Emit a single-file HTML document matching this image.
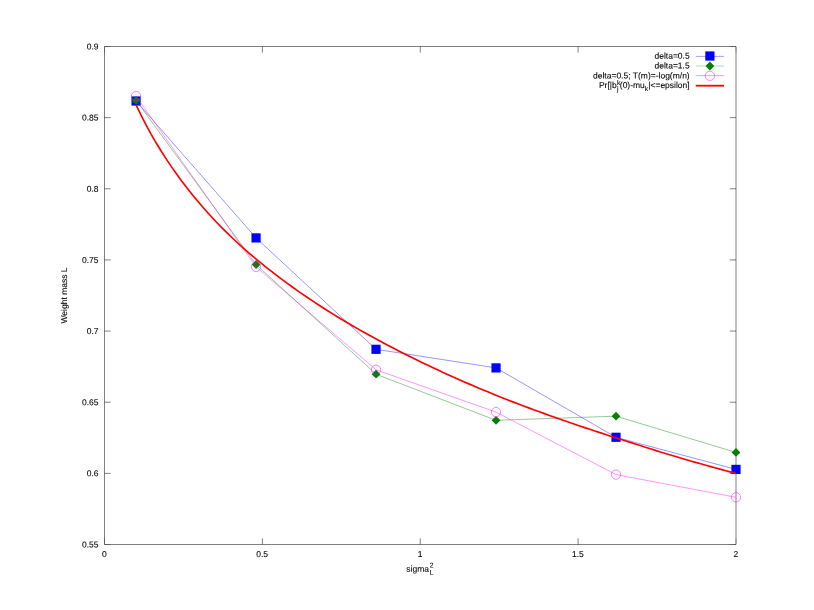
<!DOCTYPE html>
<html><head><meta charset="utf-8"><title>plot</title>
<style>
html,body{margin:0;padding:0;background:#fff;}
body{width:814px;height:610px;overflow:hidden;}
svg{display:block;will-change:transform;}
text{font-family:"Liberation Sans",sans-serif;font-size:8.5px;fill:#000;stroke:#000;stroke-width:0.09px;opacity:1;text-rendering:geometricPrecision;}
.s{font-size:6.8px;}
</style></head><body>
<svg width="814" height="610" viewBox="0 0 814 610">
<g stroke="#000" stroke-width="0.5" fill="none">
<path d="M104.5,46.5H736.0V544.5H104.5Z"/>
<path d="M104.50,544.5v-6.2M104.50,46.5v6.2" stroke-opacity="0.5"/>
<path d="M262.38,544.5v-6.2M262.38,46.5v6.2"/>
<path d="M420.25,544.5v-6.2M420.25,46.5v6.2"/>
<path d="M578.12,544.5v-6.2M578.12,46.5v6.2"/>
<path d="M736.00,544.5v-6.2M736.00,46.5v6.2" stroke-opacity="0.5"/>
<path d="M104.5,544.50h6.2M736.0,544.50h-6.2" stroke-opacity="0.5"/>
<path d="M104.5,473.36h6.2M736.0,473.36h-6.2"/>
<path d="M104.5,402.21h6.2M736.0,402.21h-6.2"/>
<path d="M104.5,331.07h6.2M736.0,331.07h-6.2"/>
<path d="M104.5,259.93h6.2M736.0,259.93h-6.2"/>
<path d="M104.5,188.79h6.2M736.0,188.79h-6.2"/>
<path d="M104.5,117.64h6.2M736.0,117.64h-6.2"/>
<path d="M104.5,46.50h6.2M736.0,46.50h-6.2" stroke-opacity="0.5"/>
</g>
<text x="98.50" y="547.50" text-anchor="end" transform="rotate(0.03 98.50 547.50)">0.55</text>
<text x="98.50" y="476.36" text-anchor="end" transform="rotate(0.03 98.50 476.36)">0.6</text>
<text x="98.50" y="405.21" text-anchor="end" transform="rotate(0.03 98.50 405.21)">0.65</text>
<text x="98.50" y="334.07" text-anchor="end" transform="rotate(0.03 98.50 334.07)">0.7</text>
<text x="98.50" y="262.93" text-anchor="end" transform="rotate(0.03 98.50 262.93)">0.75</text>
<text x="98.50" y="191.79" text-anchor="end" transform="rotate(0.03 98.50 191.79)">0.8</text>
<text x="98.50" y="120.64" text-anchor="end" transform="rotate(0.03 98.50 120.64)">0.85</text>
<text x="98.50" y="49.50" text-anchor="end" transform="rotate(0.03 98.50 49.50)">0.9</text>
<text x="104.30" y="556.90" text-anchor="middle" transform="rotate(0.03 104.30 556.90)">0</text>
<text x="262.18" y="556.90" text-anchor="middle" transform="rotate(0.03 262.18 556.90)">0.5</text>
<text x="420.05" y="556.90" text-anchor="middle" transform="rotate(0.03 420.05 556.90)">1</text>
<text x="577.92" y="556.90" text-anchor="middle" transform="rotate(0.03 577.92 556.90)">1.5</text>
<text x="735.80" y="556.90" text-anchor="middle" transform="rotate(0.03 735.80 556.90)">2</text>
<text transform="translate(67.0,295.5) rotate(-89.97)" text-anchor="middle">Weight mass L</text>
<text x="406.30" y="571.70" text-anchor="start" transform="rotate(0.03 406.30 571.70)">sigma<tspan class="s" dx="0.8" dy="-4.2">2</tspan><tspan class="s" dx="-3.8" dy="7.2">L</tspan></text>
<polyline points="136.07,101.00 256.06,237.90 376.05,349.30 496.03,367.90 616.02,437.30 736.00,469.40" fill="none" stroke="#0000ff" stroke-width="0.42"/>
<rect x="131.47" y="96.40" width="9.2" height="9.2" fill="#0000ff"/>
<rect x="251.46" y="233.30" width="9.2" height="9.2" fill="#0000ff"/>
<rect x="371.44" y="344.70" width="9.2" height="9.2" fill="#0000ff"/>
<rect x="491.43" y="363.30" width="9.2" height="9.2" fill="#0000ff"/>
<rect x="611.42" y="432.70" width="9.2" height="9.2" fill="#0000ff"/>
<rect x="731.40" y="464.80" width="9.2" height="9.2" fill="#0000ff"/>
<polyline points="136.07,100.40 256.06,264.50 376.05,374.20 496.03,420.30 616.02,416.20 736.00,452.40" fill="none" stroke="#008000" stroke-width="0.42"/>
<path d="M131.67,100.40L136.07,96.00L140.47,100.40L136.07,104.80Z" fill="#008000"/>
<path d="M251.66,264.50L256.06,260.10L260.46,264.50L256.06,268.90Z" fill="#008000"/>
<path d="M371.65,374.20L376.05,369.80L380.44,374.20L376.05,378.60Z" fill="#008000"/>
<path d="M491.63,420.30L496.03,415.90L500.43,420.30L496.03,424.70Z" fill="#008000"/>
<path d="M611.62,416.20L616.02,411.80L620.42,416.20L616.02,420.60Z" fill="#008000"/>
<path d="M731.60,452.40L736.00,448.00L740.40,452.40L736.00,456.80Z" fill="#008000"/>
<polyline points="136.07,96.10 256.06,266.90 376.05,369.80 496.03,412.10 616.02,474.60 736.00,497.30" fill="none" stroke="#ff00ff" stroke-width="0.42"/>
<circle cx="136.07" cy="96.10" r="4.65" fill="none" stroke="#ff00ff" stroke-width="0.5"/>
<circle cx="256.06" cy="266.90" r="4.65" fill="none" stroke="#ff00ff" stroke-width="0.5"/>
<circle cx="376.05" cy="369.80" r="4.65" fill="none" stroke="#ff00ff" stroke-width="0.5"/>
<circle cx="496.03" cy="412.10" r="4.65" fill="none" stroke="#ff00ff" stroke-width="0.5"/>
<circle cx="616.02" cy="474.60" r="4.65" fill="none" stroke="#ff00ff" stroke-width="0.5"/>
<circle cx="736.00" cy="497.30" r="4.65" fill="none" stroke="#ff00ff" stroke-width="0.5"/>
<polyline points="136.07,104.93 141.12,115.30 146.16,125.13 151.20,134.36 156.24,143.05 161.28,151.28 166.32,159.11 171.36,166.60 176.41,173.78 181.45,180.66 186.49,187.29 191.53,193.67 196.57,199.82 201.61,205.77 206.65,211.51 211.70,217.07 216.74,222.44 221.78,227.63 226.82,232.66 231.86,237.53 236.90,242.25 241.94,246.83 246.99,251.28 252.03,255.61 257.07,259.84 262.11,263.98 267.15,268.02 272.19,271.97 277.23,275.85 282.28,279.65 287.32,283.37 292.36,287.02 297.40,290.59 302.44,294.10 307.48,297.55 312.52,300.93 317.56,304.24 322.61,307.50 327.65,310.71 332.69,313.86 337.73,316.95 342.77,320.00 347.81,323.00 352.85,325.95 357.90,328.85 362.94,331.72 367.98,334.54 373.02,337.32 378.06,340.06 383.10,342.77 388.14,345.44 393.19,348.07 398.23,350.67 403.27,353.24 408.31,355.77 413.35,358.28 418.39,360.75 423.43,363.19 428.48,365.60 433.52,367.98 438.56,370.34 443.60,372.66 448.64,374.96 453.68,377.23 458.72,379.47 463.77,381.69 468.81,383.87 473.85,386.03 478.89,388.17 483.93,390.27 488.97,392.35 494.01,394.41 499.05,396.44 504.10,398.44 509.14,400.42 514.18,402.38 519.22,404.31 524.26,406.22 529.30,408.11 534.34,409.98 539.39,411.82 544.43,413.65 549.47,415.46 554.51,417.25 559.55,419.02 564.59,420.77 569.63,422.51 574.68,424.23 579.72,425.94 584.76,427.64 589.80,429.32 594.84,430.98 599.88,432.64 604.92,434.29 609.97,435.92 615.01,437.55 620.05,439.16 625.09,440.77 630.13,442.38 635.17,443.98 640.21,445.58 645.26,447.18 650.30,448.77 655.34,450.36 660.38,451.93 665.42,453.49 670.46,455.04 675.50,456.56 680.54,458.05 685.59,459.52 690.63,460.97 695.67,462.39 700.71,463.80 705.75,465.19 710.79,466.58 715.83,467.96 720.88,469.34 725.92,470.71 730.96,472.09 736.00,473.46" fill="none" stroke="#ff0000" stroke-width="1.65" stroke-linejoin="round"/>
<text x="689.70" y="58.80" text-anchor="end" transform="rotate(0.03 689.70 58.80)">delta=0.5</text>
<text x="689.70" y="68.60" text-anchor="end" transform="rotate(0.03 689.70 68.60)">delta=1.5</text>
<text x="689.70" y="78.45" text-anchor="end" transform="rotate(0.03 689.70 78.45)">delta=0.5; T(m)=-log(m/n)</text>
<text x="689.70" y="88.00" text-anchor="end" transform="rotate(0.03 689.70 88.00)">Pr[|b<tspan class="s" dy="-2.9" dx="0.2">k</tspan><tspan class="s" dx="-3.2" dy="6.0">j</tspan><tspan dy="-3.1" dx="1.2">(0)-mu</tspan><tspan class="s" dy="3.1">k</tspan><tspan dy="-3.1">|&lt;=epsilon]</tspan></text>
<path d="M695.8,56.4H724.0" stroke="#0000ff" stroke-width="0.38"/>
<rect x="705.30" y="51.40" width="9.2" height="9.2" fill="#0000ff"/>
<path d="M695.8,66.0H724.0" stroke="#008000" stroke-width="0.3"/>
<path d="M705.50,66.00L709.90,61.60L714.30,66.00L709.90,70.40Z" fill="#008000"/>
<path d="M695.8,75.6H724.0" stroke="#ff00ff" stroke-width="0.42"/>
<circle cx="709.9" cy="75.8" r="4.65" fill="none" stroke="#ff00ff" stroke-width="0.5"/>
<path d="M695.8,85.7H724.0" stroke="#ff0000" stroke-width="1.8"/>
</svg>
</body></html>
